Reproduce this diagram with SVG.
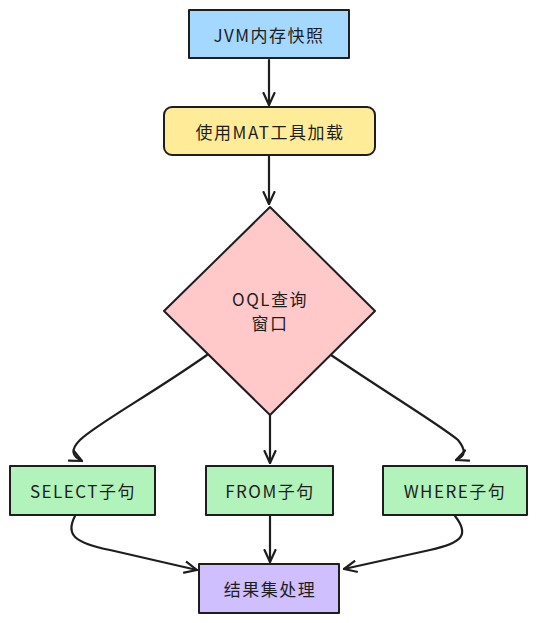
<svg xmlns="http://www.w3.org/2000/svg" width="537" height="623" viewBox="0 0 537 623">
<style>
.n{stroke:#1e1e1e;stroke-width:2;stroke-linejoin:round}
.t{font-family:"Noto Sans CJK SC","Liberation Sans",sans-serif;font-size:17px;fill:#1e1e1e;text-anchor:middle;dominant-baseline:central;letter-spacing:1.5px}
.c{fill:none;stroke:#1e1e1e;stroke-width:2.2;stroke-linecap:round}
</style>
<defs>
<marker id="a" viewBox="0 0 14 14" refX="13" refY="7" markerWidth="14" markerHeight="14" markerUnits="userSpaceOnUse" orient="auto">
<path d="M1,1.5 L13,7 L1,12.5" fill="none" stroke="#1e1e1e" stroke-width="2.2" stroke-linecap="round" stroke-linejoin="round"/>
</marker>
</defs>
<rect width="537" height="623" fill="#ffffff"/>
<g id="connectors">
<path class="c" d="M269,60 L269,105" marker-end="url(#a)"/>
<path class="c" d="M269,156 L269,204" marker-end="url(#a)"/>
<path class="c" d="M207,355 C150,395 95,425 80,440 C70,450 72,456 82,461" marker-end="url(#a)"/>
<path class="c" d="M270,415 L270,463" marker-end="url(#a)"/>
<path class="c" d="M331,355 C390,395 440,425 458,440 C466,450 466,456 456,460" marker-end="url(#a)"/>
<path class="c" d="M75,516 C65,535 75,543 110,550 L197,570" marker-end="url(#a)"/>
<path class="c" d="M270,516 L270,562" marker-end="url(#a)"/>
<path class="c" d="M455,516 C470,535 462,543 430,550 L344,569" marker-end="url(#a)"/>
</g>
<g id="jvm">
<rect class="n" x="189" y="10" width="160" height="48" fill="#a5d8ff"/>
<text class="t" x="269" y="34">JVM内存快照</text>
</g>
<g id="mat">
<rect class="n" x="164" y="107" width="211" height="48" rx="8" fill="#ffec99"/>
<text class="t" x="270" y="131">使用MAT工具加载</text>
</g>
<g id="oql">
<polygon class="n" points="270,207 375,311 270,415 164,311" fill="#ffc9c9"/>
<text class="t" x="270" y="298">OQL查询</text>
<text class="t" x="270" y="322">窗口</text>
</g>
<g id="select">
<rect class="n" x="10" y="466" width="145" height="49" fill="#b2f2bb"/>
<text class="t" x="83" y="490">SELECT子句</text>
</g>
<g id="from">
<rect class="n" x="206" y="466" width="127" height="49" fill="#b2f2bb"/>
<text class="t" x="270" y="490">FROM子句</text>
</g>
<g id="where">
<rect class="n" x="383" y="466" width="144" height="49" fill="#b2f2bb"/>
<text class="t" x="455" y="490">WHERE子句</text>
</g>
<g id="result">
<rect class="n" x="199" y="564" width="140" height="49" fill="#d0bfff"/>
<text class="t" x="270" y="588">结果集处理</text>
</g>
</svg>
